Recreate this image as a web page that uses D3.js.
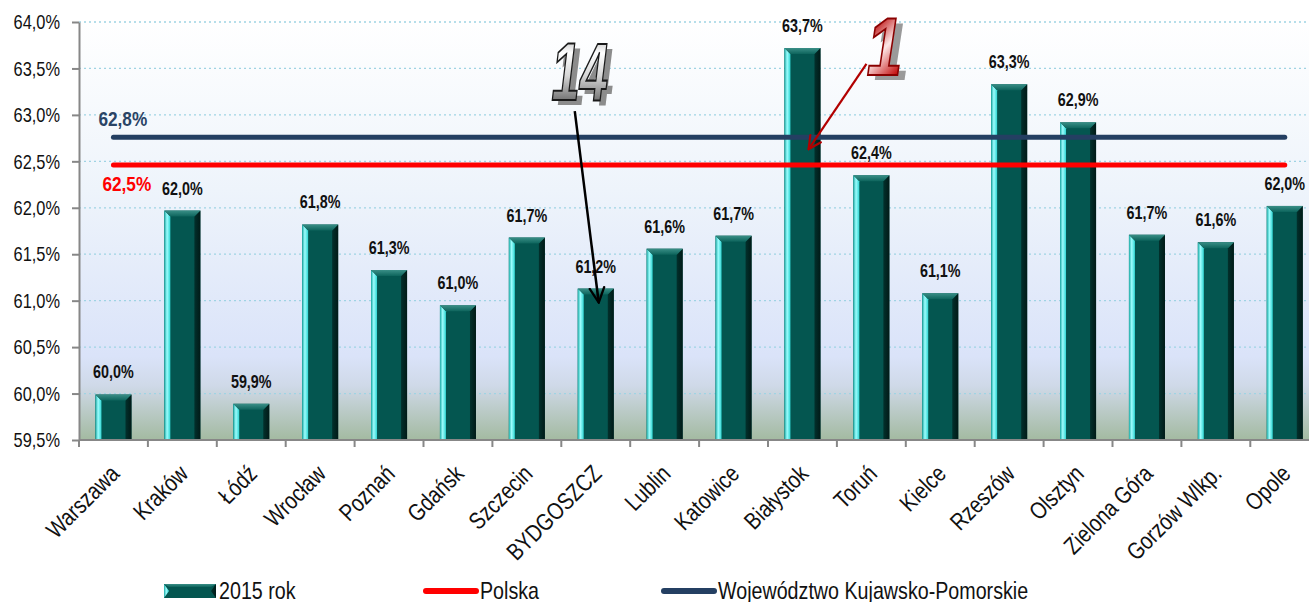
<!DOCTYPE html>
<html>
<head>
<meta charset="utf-8">
<script src="https://cdn.jsdelivr.net/npm/d3@7"></script>
<style>
  html, body { margin: 0; padding: 0; background: #ffffff; }
  svg { display: block; }
  text { font-family: "Liberation Sans", Arial, sans-serif; }
</style>
</head>
<body>
<svg id="chart" width="1309" height="602"></svg>
<script>
// ---------------- DATA ----------------
const categories = ["Warszawa", "Kraków", "Łódź", "Wrocław", "Poznań", "Gdańsk", "Szczecin", "BYDGOSZCZ", "Lublin", "Katowice", "Białystok", "Toruń", "Kielce", "Rzeszów", "Olsztyn", "Zielona Góra", "Gorzów Wlkp.", "Opole"];
const values2015 = [59.99, 61.97, 59.89, 61.82, 61.33, 60.95, 61.68, 61.13, 61.56, 61.70, 63.72, 62.35, 61.08, 63.33, 62.92, 61.71, 61.63, 62.02];
const valueLabels = ["60,0%", "62,0%", "59,9%", "61,8%", "61,3%", "61,0%", "61,7%", "61,2%", "61,6%", "61,7%", "63,7%", "62,4%", "61,1%", "63,3%", "62,9%", "61,7%", "61,6%", "62,0%"];
const polskaValue = 62.46;
const polskaLabel = "62,5%";
const kujPomValue = 62.76;
const kujPomLabel = "62,8%";
const yTickValues = [59.5, 60.0, 60.5, 61.0, 61.5, 62.0, 62.5, 63.0, 63.5, 64.0];
const yTickLabels = ["59,5%", "60,0%", "60,5%", "61,0%", "61,5%", "62,0%", "62,5%", "63,0%", "63,5%", "64,0%"];
const seriesNames = ["2015 rok", "Polska", "Województwo Kujawsko-Pomorskie"];
const annotationTexts = ["14", "1"];

// ---------------- LAYOUT ----------------
const svg = d3.select("#chart");
const plotLeft = 79, plotTop = 22, plotBottom = 440;
const step = 68.9;
const plotRight = plotLeft + step * categories.length;
const NARROW = 0.82; // emulate Arial Narrow

const x = d3.scaleBand().domain(categories).range([plotLeft, plotRight]).paddingInner(0.477).paddingOuter(0.2385);
const y = d3.scaleLinear().domain([59.5, 64]).range([plotBottom, plotTop]);
const bw = x.bandwidth();

function ntext(parent, tx, ty, rot, str) {
  return parent.append("text")
    .attr("transform", `translate(${tx},${ty})${rot ? ` rotate(${rot})` : ""} scale(${NARROW},1)`)
    .text(str);
}

const defs = svg.append("defs");
const bg = defs.append("linearGradient").attr("id", "bgGrad").attr("x1", 0).attr("y1", 0).attr("x2", 0).attr("y2", 1);
[["0%", "#ffffff"], ["40%", "#eef4fb"], ["80%", "#dae3f9"], ["87%", "#cfd9e8"], ["100%", "#a3baa1"]].forEach(s => bg.append("stop").attr("offset", s[0]).attr("stop-color", s[1]));
const leftG = defs.append("linearGradient").attr("id", "leftGrad").attr("x1", 0).attr("y1", 0).attr("x2", 1).attr("y2", 0);
[["0%", "#1aa9a4"], ["45%", "#9dfdfd"], ["100%", "#2fd6d3"]].forEach(s => leftG.append("stop").attr("offset", s[0]).attr("stop-color", s[1]));
const rightG = defs.append("linearGradient").attr("id", "rightGrad").attr("x1", 0).attr("y1", 0).attr("x2", 1).attr("y2", 0);
[["0%", "#02302c"], ["100%", "#011a17"]].forEach(s => rightG.append("stop").attr("offset", s[0]).attr("stop-color", s[1]));
const topG = defs.append("linearGradient").attr("id", "topGrad").attr("x1", 0).attr("y1", 0).attr("x2", 0).attr("y2", 1);
[["0%", "#3a8f87"], ["100%", "#0d645c"]].forEach(s => topG.append("stop").attr("offset", s[0]).attr("stop-color", s[1]));
const silver = defs.append("linearGradient").attr("id", "silverGrad").attr("x1", 0).attr("y1", 0).attr("x2", 0).attr("y2", 1);
[["0%", "#8a8a8a"], ["30%", "#ffffff"], ["55%", "#d6d6d6"], ["100%", "#333333"]].forEach(s => silver.append("stop").attr("offset", s[0]).attr("stop-color", s[1]));
const redG = defs.append("linearGradient").attr("id", "redGrad").attr("x1", 0).attr("y1", 0).attr("x2", 0.4).attr("y2", 1);
[["0%", "#b30000"], ["30%", "#c01818"], ["62%", "#fde8e8"], ["100%", "#c00000"]].forEach(s => redG.append("stop").attr("offset", s[0]).attr("stop-color", s[1]));
function marker(id, color) {
  defs.append("marker").attr("id", id).attr("viewBox", "0 0 12 12").attr("refX", 11).attr("refY", 6)
    .attr("markerWidth", 7).attr("markerHeight", 7).attr("markerUnits", "strokeWidth").attr("orient", "auto")
    .append("path").attr("d", "M1,1 L11,6 L1,11").attr("fill", "none").attr("stroke", color).attr("stroke-width", 1.6).attr("stroke-linecap", "round");
}
marker("arrBlack", "#000000");
marker("arrRed", "#b20000");

svg.append("rect").attr("x", plotLeft).attr("y", plotTop).attr("width", plotRight - plotLeft).attr("height", plotBottom - plotTop).attr("fill", "url(#bgGrad)");

svg.append("g").selectAll("line").data(yTickValues.slice(1)).join("line")
  .attr("x1", plotLeft).attr("x2", plotRight).attr("y1", d => y(d)).attr("y2", d => y(d))
  .attr("stroke", "#9fd3e3").attr("stroke-width", 1.3).attr("stroke-dasharray", "2,3");

const bevel = 6;
svg.append("g").selectAll("g").data(categories).join("g").each(function (c, i) {
  const g = d3.select(this);
  const x0 = x(c), x1 = x(c) + bw, y0 = y(values2015[i]), y1 = y(59.5);
  const b = Math.min(bevel, (y1 - y0) / 2);
  g.append("rect").attr("x", x0).attr("y", y0).attr("width", bw).attr("height", y1 - y0).attr("fill", "#045650");
  g.append("path").attr("d", `M${x0},${y0} L${x0 + b},${y0 + b} L${x0 + b},${y1} L${x0},${y1} Z`).attr("fill", "url(#leftGrad)");
  g.append("path").attr("d", `M${x1},${y0} L${x1},${y1} L${x1 - b},${y1} L${x1 - b},${y0 + b} Z`).attr("fill", "url(#rightGrad)");
  g.append("path").attr("d", `M${x0},${y0} L${x1},${y0} L${x1 - b},${y0 + b} L${x0 + b},${y0 + b} Z`).attr("fill", "url(#topGrad)");
});

const vl = svg.append("g").attr("font-size", 17.5).attr("font-weight", "bold").attr("fill", "#111").attr("text-anchor", "middle");
categories.forEach((c, i) => ntext(vl, x(c) + bw / 2, y(values2015[i]) - 16, 0, valueLabels[i]));

const lx1 = x(categories[0]) + bw / 2, lx2 = x(categories[categories.length - 1]) + bw / 2;
svg.append("line").attr("x1", lx1).attr("x2", lx2).attr("y1", y(kujPomValue)).attr("y2", y(kujPomValue))
  .attr("stroke", "#243f62").attr("stroke-width", 5).attr("stroke-linecap", "round");
svg.append("line").attr("x1", lx1).attr("x2", lx2).attr("y1", y(polskaValue)).attr("y2", y(polskaValue))
  .attr("stroke", "#ff0000").attr("stroke-width", 5).attr("stroke-linecap", "round");
ntext(svg, lx1 - 15, y(kujPomValue) - 11, 0, kujPomLabel).attr("font-size", 21).attr("font-weight", "bold").attr("fill", "#2a4466");
ntext(svg, lx1 - 11, y(polskaValue) + 26, 0, polskaLabel).attr("font-size", 21).attr("font-weight", "bold").attr("fill", "#ff0000");

const yAxis = svg.append("g").attr("transform", `translate(${plotLeft},0)`)
  .call(d3.axisLeft(y).tickValues(yTickValues).tickFormat(() => "").tickSize(7).tickSizeOuter(0));
yAxis.select(".domain").attr("stroke", "#878787").attr("stroke-width", 2);
yAxis.selectAll(".tick line").attr("stroke", "#878787").attr("stroke-width", 2);
const yl = svg.append("g").attr("font-size", 20).attr("fill", "#111").attr("text-anchor", "end");
yTickValues.forEach((v, i) => ntext(yl, 60, y(v), 0, yTickLabels[i]).attr("dy", "0.36em"));

svg.append("line").attr("x1", plotLeft).attr("x2", plotRight).attr("y1", plotBottom).attr("y2", plotBottom)
  .attr("stroke", "#878787").attr("stroke-width", 2);
svg.append("g").selectAll("line").data(d3.range(categories.length + 1)).join("line")
  .attr("x1", i => x.range()[0] + i * x.step()).attr("x2", i => x.range()[0] + i * x.step())
  .attr("y1", plotBottom).attr("y2", plotBottom + 7).attr("stroke", "#878787").attr("stroke-width", 2);
const xl = svg.append("g").attr("font-size", 24).attr("fill", "#111").attr("text-anchor", "end");
categories.forEach(c => ntext(xl, x(c) + bw / 2 - 5, 463, -45, c).attr("dy", "0.72em"));

function bigText(txt, cx, baseY, sx, fill, stroke, shadow) {
  const g = svg.append("g").attr("transform", `translate(${cx},${baseY}) scale(${sx},1)`)
    .attr("font-size", 82).attr("font-weight", "bold").attr("font-style", "italic").attr("text-anchor", "middle");
  g.append("text").attr("x", 9).attr("y", 5).attr("fill", shadow).text(txt);
  g.append("text").attr("x", 0).attr("y", 0).attr("fill", fill).attr("stroke", stroke).attr("stroke-width", 2).text(txt);
}
const bydCenter = x("BYDGOSZCZ") + bw / 2;
const bialCenter = x("Białystok") + bw / 2;
svg.append("line").attr("x1", bydCenter - 21).attr("y1", y(63.04)).attr("x2", bydCenter + 3).attr("y2", y(60.98))
  .attr("stroke", "#000").attr("stroke-width", 2.5).attr("marker-end", "url(#arrBlack)");
svg.append("line").attr("x1", bialCenter + 64).attr("y1", y(63.55)).attr("x2", bialCenter + 6).attr("y2", y(62.63))
  .attr("stroke", "#b20000").attr("stroke-width", 2.2).attr("marker-end", "url(#arrRed)");
bigText(annotationTexts[0], bydCenter - 16, y(63.16), 0.62, "url(#silverGrad)", "#1a1a1a", "#8c8c8c");
bigText(annotationTexts[1], bialCenter + 82, y(63.43), 0.78, "url(#redGrad)", "#8a0000", "#9a9a9a");

const lg = svg.append("g");
const ly = 591;
(function () {
  const x0 = 164, x1 = 216, y0 = ly - 7, y1 = ly + 7, b = 5;
  lg.append("rect").attr("x", x0).attr("y", y0).attr("width", x1 - x0).attr("height", y1 - y0).attr("fill", "#045650");
  lg.append("path").attr("d", `M${x0},${y0} L${x0 + b},${ly} L${x0},${y1} Z`).attr("fill", "url(#leftGrad)");
  lg.append("path").attr("d", `M${x1},${y0} L${x1},${y1} L${x1 - b},${ly} Z`).attr("fill", "url(#rightGrad)");
  lg.append("path").attr("d", `M${x0},${y0} L${x1},${y0} L${x1 - b},${y0 + 3} L${x0 + b},${y0 + 3} Z`).attr("fill", "url(#topGrad)");
})();
lg.append("line").attr("x1", 426).attr("x2", 476).attr("y1", ly).attr("y2", ly).attr("stroke", "#ff0000").attr("stroke-width", 6).attr("stroke-linecap", "round");
lg.append("line").attr("x1", 664).attr("x2", 714).attr("y1", ly).attr("y2", ly).attr("stroke", "#243f62").attr("stroke-width", 6).attr("stroke-linecap", "round");
const legendX = [219, 480, 718];
const lt = lg.append("g").attr("font-size", 24).attr("fill", "#111");
seriesNames.forEach((d, i) => ntext(lt, legendX[i], ly + 8, 0, d));
</script>
</body>
</html>
